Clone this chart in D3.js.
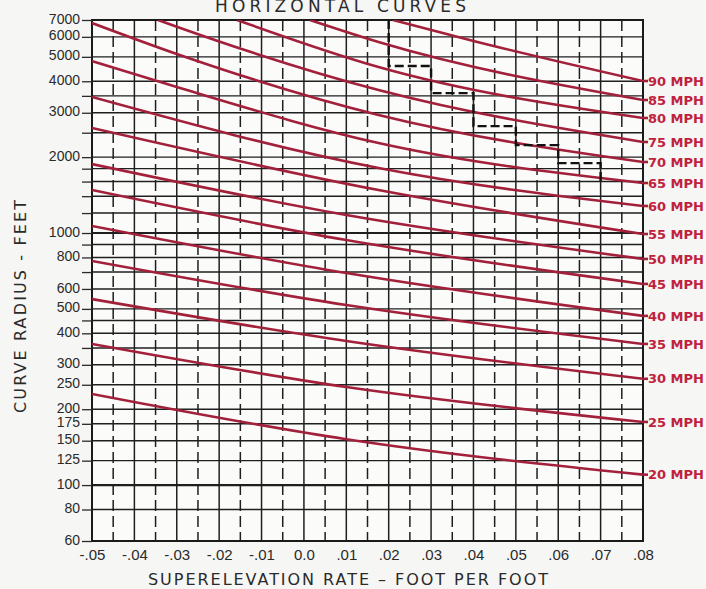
<!DOCTYPE html>
<html>
<head>
<meta charset="utf-8">
<script src="https://cdn.jsdelivr.net/npm/d3@7"></script>
<style>
    body { margin: 0; background: #f6f6f4; }
    svg { display: block; font-family: "DejaVu Sans", sans-serif; }
</style>
</head>
<body>
<div id="chart"></div>
<script>
// speed curves: [superelevation, radius in feet]
const mph20 = [[-0.05, 230], [0.01, 152], [0.08, 110]];
const mph25 = [[-0.05, 363], [0.01, 245], [0.08, 178]];
const mph30 = [[-0.05, 547], [0.01, 373], [0.08, 264]];
const mph35 = [[-0.05, 775], [0.01, 518], [0.08, 363]];
const mph40 = [[-0.05, 1067], [0.01, 694], [0.08, 469]];
const mph45 = [[-0.05, 1481], [0.01, 938], [0.08, 628]];
const mph50 = [[-0.05, 1877], [0.01, 1179], [0.08, 789]];
const mph55 = [[-0.05, 2610], [0.0176, 1481], [0.08, 991]];
const mph60 = [[-0.05, 3465], [0.0176, 1811], [0.08, 1280]];
const mph65 = [[-0.05, 4814], [-0.03, 3796], [0.0176, 2276], [0.08, 1579]];
const mph70 = [[-0.05, 6810], [-0.03, 5132], [0.0176, 2939], [0.08, 1913]];
const mph75 = [[-0.0344, 7000], [-0.03, 6585], [0.0176, 3692], [0.08, 2297]];
const mph80 = [[-0.0158, 7000], [0.0176, 4557], [0.08, 2860]];
const mph85 = [[0.0014, 7000], [0.0176, 5725], [0.08, 3370]];
const mph90 = [[0.021, 7000], [0.04, 5780], [0.08, 4009]];

const speeds = [20, 25, 30, 35, 40, 45, 50, 55, 60, 65, 70, 75, 80, 85, 90];
const curves = [mph20, mph25, mph30, mph35, mph40, mph45, mph50, mph55, mph60, mph65, mph70, mph75, mph80, mph85, mph90];

// dashed step line
const stepRate = [0.02, 0.03, 0.04, 0.05, 0.06, 0.07];
const stepRadius = [4600, 3590, 2655, 2233, 1893, 1578];

// axes
const xTicks = [-0.05, -0.04, -0.03, -0.02, -0.01, 0, 0.01, 0.02, 0.03, 0.04, 0.05, 0.06, 0.07, 0.08];
const xTickLabels = ["-.05", "-.04", "-.03", "-.02", "-.01", "0.0", ".01", ".02", ".03", ".04", ".05", ".06", ".07", ".08"];
const xHalfTicks = [-0.045, -0.035, -0.025, -0.015, -0.005, 0.005, 0.015, 0.025, 0.035, 0.045, 0.055, 0.065, 0.075];
const yTicks = [7000, 6000, 5000, 4000, 3500, 3000, 2500, 2000, 1800, 1600, 1400, 1200, 1000, 900, 800, 700, 600, 500, 450, 400, 350, 300, 250, 200, 175, 150, 125, 100, 80, 60];
const yTickLabels = ["7000", "6000", "5000", "4000", "", "3000", "", "2000", "", "", "", "", "1000", "", "800", "", "600", "500", "", "400", "", "300", "250", "200", "175", "150", "125", "100", "80", "60"];

const W = 706, H = 589;
const margin = {top: 20, right: 63, bottom: 48, left: 92};
const width = W - margin.left - margin.right;
const height = H - margin.top - margin.bottom;

const svg = d3.select("#chart").append("svg")
    .attr("width", W)
    .attr("height", H);

const g = svg.append("g")
    .attr("transform", `translate(${margin.left},${margin.top})`);

const x = d3.scaleLinear().domain([-0.05, 0.08]).range([0, width]);
const y = d3.scaleLog().domain([60, 7000]).range([height, 0]);

g.append("rect")
    .attr("width", width)
    .attr("height", height)
    .attr("fill", "#fbfbfa");

// grid
g.selectAll(".hgrid")
    .data(yTicks)
    .enter()
    .append("line")
    .attr("x1", 0)
    .attr("x2", width)
    .attr("y1", d => y(d))
    .attr("y2", d => y(d))
    .attr("stroke", "#1f1f1f")
    .attr("stroke-width", d => (d === 1000 || d === 100) ? 2.2 : 1.4);

g.selectAll(".vgrid")
    .data(xTicks)
    .enter()
    .append("line")
    .attr("x1", d => x(d))
    .attr("x2", d => x(d))
    .attr("y1", 0)
    .attr("y2", height)
    .attr("stroke", "#1f1f1f")
    .attr("stroke-width", 1.5);

g.selectAll(".vdash")
    .data(xHalfTicks)
    .enter()
    .append("line")
    .attr("x1", d => x(d))
    .attr("x2", d => x(d))
    .attr("y1", 0)
    .attr("y2", height)
    .attr("stroke", "#1f1f1f")
    .attr("stroke-width", 1.5)
    .attr("stroke-dasharray", "11 5");

g.append("rect")
    .attr("width", width)
    .attr("height", height)
    .attr("fill", "none")
    .attr("stroke", "#1a1a1a")
    .attr("stroke-width", 2);

// clip
svg.append("clipPath")
    .attr("id", "plot-clip")
    .append("rect")
    .attr("width", width)
    .attr("height", height);

// speed curves
const line = d3.line()
    .x(d => x(d[0]))
    .y(d => y(d[1]))
    .curve(d3.curveMonotoneX);

g.append("g")
    .attr("clip-path", "url(#plot-clip)")
    .selectAll("path")
    .data(curves)
    .enter()
    .append("path")
    .attr("d", line)
    .attr("fill", "none")
    .attr("stroke", "#a3203a")
    .attr("stroke-width", 2.6);

// step line
const stepPoints = [[stepRate[0], 7000]];
stepRate.forEach((e, i) => {
    stepPoints.push([e, stepRadius[i]]);
    if (i < stepRate.length - 1) stepPoints.push([stepRate[i + 1], stepRadius[i]]);
});
g.append("path")
    .attr("d", d3.line().x(d => x(d[0])).y(d => y(d[1]))(stepPoints))
    .attr("fill", "none")
    .attr("stroke", "#111")
    .attr("stroke-width", 2.4)
    .attr("stroke-dasharray", "9 4");

// speed labels
const labels = g.append("g");
curves.forEach((c, i) => {
    const last = c[c.length - 1];
    labels.append("line")
        .attr("x1", width)
        .attr("x2", width + 5)
        .attr("y1", y(last[1]))
        .attr("y2", y(last[1]))
        .attr("stroke", "#a3203a")
        .attr("stroke-width", 2.6);
    labels.append("text")
        .attr("x", width + 5)
        .attr("y", y(last[1]))
        .attr("dy", "0.36em")
        .attr("fill", "#c0223d")
        .style("font-size", "13px")
        .style("font-weight", "bold")
        .text(`${speeds[i]} MPH`);
});

// y axis
const yAxis = g.append("g")
    .call(d3.axisLeft(y)
        .tickValues(yTicks)
        .tickFormat((d, i) => yTickLabels[i])
        .tickSize(10)
        .tickPadding(2));
yAxis.select(".domain").remove();
yAxis.selectAll("line").attr("stroke", "#2a2a2a").attr("stroke-width", 1.3);
yAxis.selectAll("text")
    .attr("fill", "#2a2a2a")
    .attr("dy", "0.22em")
    .style("font-size", "14px");

// x axis
const xAxis = g.append("g")
    .attr("transform", `translate(0,${height})`)
    .call(d3.axisBottom(x)
        .tickValues(xTicks)
        .tickFormat((d, i) => xTickLabels[i])
        .tickSize(0)
        .tickPadding(8));
xAxis.select(".domain").remove();
xAxis.selectAll("text")
    .attr("fill", "#2a2a2a")
    .style("font-size", "15px");

// titles
svg.append("text")
    .attr("x", 148)
    .attr("y", 585)
    .attr("textLength", 400)
    .attr("lengthAdjust", "spacing")
    .attr("fill", "#2a2a2a")
    .style("font-size", "16px")
    .text("SUPERELEVATION RATE – FOOT PER FOOT");

svg.append("text")
    .attr("transform", "rotate(-90)")
    .attr("x", -413)
    .attr("y", 26)
    .attr("textLength", 213)
    .attr("lengthAdjust", "spacing")
    .attr("fill", "#2a2a2a")
    .style("font-size", "16px")
    .text("CURVE RADIUS - FEET");

svg.append("text")
    .attr("x", 215)
    .attr("y", 12)
    .attr("textLength", 251)
    .attr("lengthAdjust", "spacing")
    .attr("fill", "#2a2a2a")
    .style("font-size", "17px")
    .text("HORIZONTAL CURVES");
</script>
</body>
</html>
